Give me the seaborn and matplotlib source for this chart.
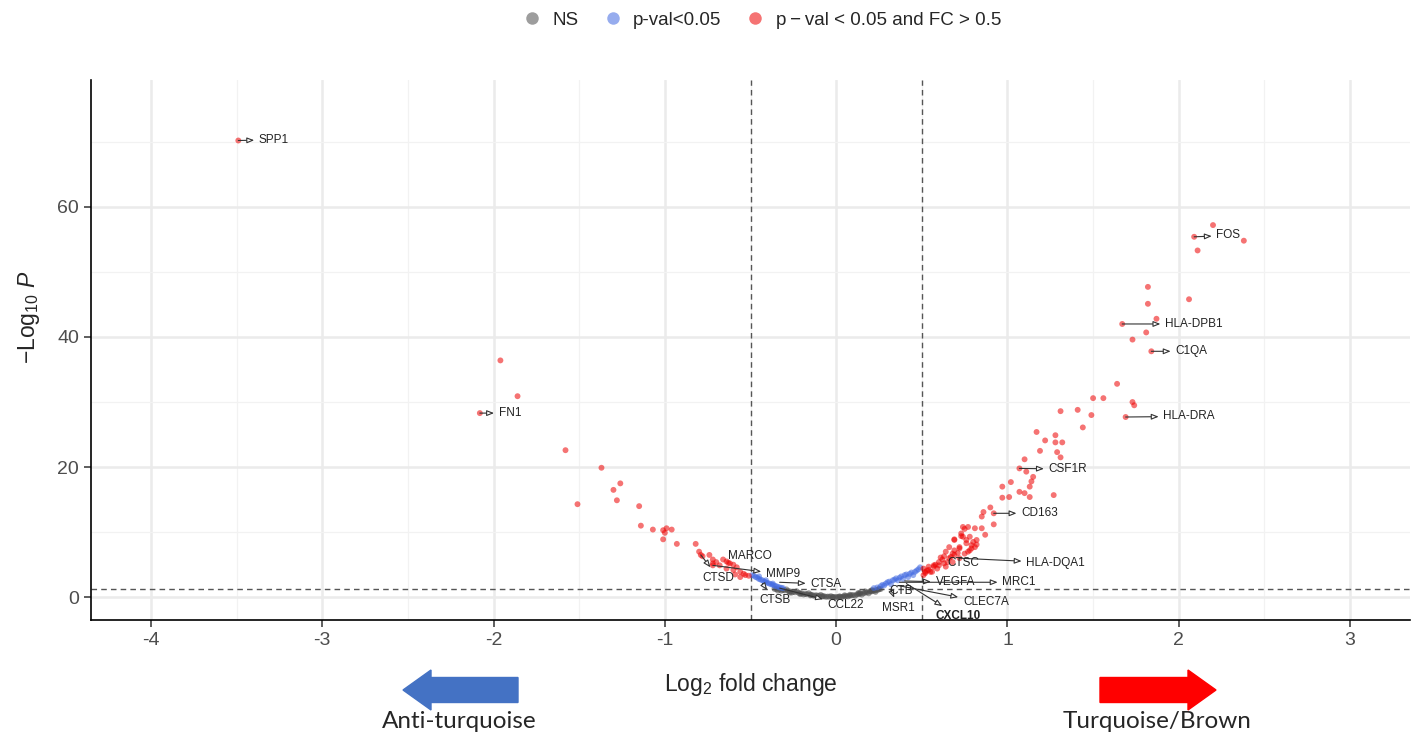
import numpy as np
import pandas as pd
import matplotlib
matplotlib.use("Agg")
import matplotlib.pyplot as plt
from matplotlib.lines import Line2D
from matplotlib.patches import FancyArrow
import seaborn as sns

# ---------------- data ----------------
red_x = [2.20, 2.09, 2.38, 2.11, 1.82, 2.06, 1.82, 1.87, 1.67, 1.81, 1.73, 1.84,
         1.64, 1.50, 1.56, 1.73, 1.74, 1.31, 1.41, 1.49, 1.69, 1.44,
         1.17, 1.28, 1.22, 1.28, 1.32, 1.29, 1.19, 1.31, 1.10, 1.11, 1.07, 1.15,
         1.14, 1.02, 1.13, 0.97, 1.07, 1.10, 1.13, 0.97, 1.01, 1.27,
         0.90, 0.86, 0.92, 0.85, 0.92, 0.77, 0.75, 0.81, 0.85,
         0.73, 0.69, 0.78, 0.82, 0.76, 0.82, 0.66, 0.72, 0.79, 0.64, 0.68, 0.77, 0.63,
         0.72, 0.60, 0.57, 0.54, 0.51, 0.59, 0.55, 0.52,
         0.73, 0.74, 0.80, 0.81, 0.78, 0.75, 0.69, 0.66, 0.63, 0.60, 0.57, 0.54, 0.52,
         0.51, 0.56, 0.64, 0.68, 0.65, 0.69, 0.72, 0.87, 0.74, 0.69, 0.76, 0.79,
         0.53, 0.58, 0.62, 0.67, 0.71, 0.61,
         -3.49, -2.08, -1.96, -1.86, -1.58, -1.37, -1.51, -1.26, -1.30, -1.28, -1.15,
         -1.14, -1.07, -0.99, -0.96, -1.00, -1.01, -1.01, -0.93, -0.82, -0.80, -0.74,
         -0.78, -0.72, -0.66, -0.64, -0.63, -0.60, -0.68, -0.72, -0.64, -0.60, -0.56,
         -0.59, -0.56, -0.53, -0.79, -0.72, -0.62, -0.70, -0.58, -0.54, -0.51]
red_y = [57.2, 55.4, 54.8, 53.3, 47.7, 45.8, 45.1, 42.8, 42.0, 40.7, 39.6, 37.8,
         32.8, 30.6, 30.6, 30.0, 29.5, 28.6, 28.8, 28.0, 27.7, 26.1,
         25.4, 24.9, 24.1, 23.8, 23.8, 22.3, 22.5, 21.5, 21.2, 19.3, 19.8, 18.5,
         17.8, 17.7, 17.0, 17.0, 16.2, 16.0, 15.4, 15.3, 15.4, 15.7,
         13.8, 13.1, 12.9, 12.4, 11.2, 10.8, 10.5, 10.6, 10.6,
         9.4, 8.9, 9.3, 8.8, 8.3, 8.1, 7.7, 7.5, 7.5, 7.0, 6.7, 7.0, 6.3,
         6.0, 5.4, 4.9, 4.7, 4.4, 4.4, 3.9, 3.7,
         9.8, 9.3, 8.5, 7.7, 7.2, 6.7, 6.5, 6.0, 5.2, 4.9, 4.7, 4.2, 3.9,
         3.4, 3.9, 4.7, 5.4, 5.4, 7.2, 7.7, 9.6, 10.8, 8.8, 8.8, 8.0,
         4.1, 5.0, 5.8, 6.2, 6.8, 6.1,
         70.2, 28.3, 36.4, 30.9, 22.6, 19.9, 14.3, 17.5, 16.5, 14.9, 14.0,
         11.0, 10.4, 10.6, 10.4, 9.9, 10.3, 8.9, 8.2, 8.2, 7.0, 6.5,
         6.3, 5.8, 5.8, 5.5, 5.3, 5.0, 4.9, 5.2, 4.4, 4.2, 3.9,
         3.5, 3.1, 3.4, 6.5, 4.9, 5.2, 5.4, 4.6, 3.6, 3.3]

blue_x = [-0.49, -0.48, -0.47, -0.46, -0.45, -0.44, -0.43, -0.42, -0.41, -0.40,
          -0.39, -0.38, -0.37, -0.36, -0.35, -0.34, -0.33, -0.32, -0.31, -0.45, -0.41, -0.37,
          0.22, 0.24, 0.26, 0.27, 0.29, 0.30, 0.31, 0.33, 0.34, 0.35, 0.37, 0.38,
          0.40, 0.41, 0.43, 0.44, 0.46, 0.47, 0.48, 0.49, 0.36, 0.32, 0.42, 0.45, 0.39, 0.28]
blue_y = [3.4, 3.3, 3.1, 3.0, 2.8, 2.7, 2.6, 2.4, 2.3, 2.2,
          2.1, 2.0, 1.9, 1.8, 1.7, 1.6, 1.5, 1.45, 1.4, 3.2, 2.6, 2.1,
          1.4, 1.5, 1.7, 1.9, 2.1, 2.3, 2.4, 2.6, 2.7, 2.9, 3.0, 3.2,
          3.4, 3.5, 3.6, 3.8, 3.9, 4.1, 4.3, 4.6, 2.6, 2.0, 3.1, 3.4, 2.8, 1.8]

gray_x = [-0.36, -0.35, -0.33, -0.31, -0.30, -0.28, -0.27, -0.25, -0.24, -0.22, -0.21,
          -0.20, -0.18, -0.17, -0.15, -0.14, -0.12, -0.11, -0.10, -0.08, -0.07, -0.05,
          -0.04, -0.02, -0.01, 0.00, 0.01, 0.02, 0.04, 0.05, 0.06, 0.08, 0.09, 0.10,
          0.12, 0.13, 0.14, 0.16, 0.17, 0.18, 0.20, 0.21, 0.22, 0.23, 0.24, 0.25, 0.26,
          -0.32, -0.26, -0.19, -0.13, -0.06, 0.03, 0.07, 0.11, 0.15, 0.19, 0.23,
          -0.29, -0.23, -0.16, -0.09, -0.03, 0.05, 0.13, 0.17, 0.21,
          -0.34, -0.27, -0.21, -0.15, -0.08, -0.02, 0.02, 0.08, 0.14, 0.20, 0.25]
gray_y = [1.28, 1.25, 1.18, 1.10, 1.05, 0.95, 0.90, 0.82, 0.76, 0.68, 0.62,
          0.58, 0.50, 0.46, 0.40, 0.35, 0.30, 0.26, 0.22, 0.18, 0.15, 0.10,
          0.08, 0.05, 0.03, 0.02, 0.04, 0.06, 0.10, 0.14, 0.18, 0.25, 0.30, 0.34,
          0.42, 0.48, 0.54, 0.62, 0.70, 0.76, 0.86, 0.92, 1.00, 1.06, 1.12, 1.20, 1.26,
          1.00, 0.70, 0.42, 0.22, 0.06, 0.02, 0.12, 0.22, 0.40, 0.60, 0.82,
          1.20, 0.92, 0.62, 0.36, 0.16, 0.30, 0.66, 0.90, 1.12,
          1.00, 0.72, 0.48, 0.28, 0.10, 0.00, 0.14, 0.38, 0.66, 0.96, 1.32]

genes = ["SPP1", "FN1", "FOS", "HLA-DPB1", "C1QA", "HLA-DRA", "CSF1R", "CD163",
         "HLA-DQA1", "CTSC", "VEGFA", "MRC1", "CLEC7A", "CXCL10", "MSR1", "CTB",
         "MARCO", "CTSD", "MMP9", "CTSA", "CTSB", "CCL22"]
gene_x = [-3.49, -2.08, 2.09, 1.67, 1.84, 1.69, 1.07, 0.92,
          0.72, 0.60, 0.40, 0.37, 0.36, 0.41, 0.32, 0.30,
          -0.62, -0.79, -0.72, -0.33, -0.43, -0.33]
gene_y = [70.2, 28.3, 55.4, 42.0, 37.8, 27.7, 19.8, 12.9,
          6.0, 5.4, 2.5, 2.3, 1.8, 2.1, 1.1, 1.3,
          5.2, 6.5, 4.9, 2.3, 2.1, 1.4]

# label placement (layout only)
label_pos = {
    "SPP1": (-3.37, 70.3), "FN1": (-1.97, 28.3), "FOS": (2.22, 55.6),
    "HLA-DPB1": (1.92, 42.0), "C1QA": (1.98, 37.8), "HLA-DRA": (1.91, 27.8),
    "CSF1R": (1.24, 19.7), "CD163": (1.08, 12.9), "HLA-DQA1": (1.11, 5.3),
    "CTSC": (0.65, 5.3), "VEGFA": (0.58, 2.3), "MRC1": (0.97, 2.3),
    "CLEC7A": (0.74, -0.8), "CXCL10": (0.58, -2.9), "MSR1": (0.27, -1.7),
    "CTB": (0.31, 0.9), "MARCO": (-0.63, 6.4), "CTSD": (-0.78, 3.0),
    "MMP9": (-0.41, 3.5), "CTSA": (-0.15, 2.0), "CTSB": (-0.45, -0.5),
    "CCL22": (-0.05, -1.2),
}
no_arrow = {"CTSC", "MARCO", "CTB"}

groups = ["NS", "p-val<0.05", "p\u2009\u2212\u2009val < 0.05 and FC > 0.5"]
df = pd.DataFrame({
    "log2fc": gray_x + blue_x + red_x,
    "nlog10p": gray_y + blue_y + red_y,
    "group": [groups[0]] * len(gray_x) + [groups[1]] * len(blue_x) + [groups[2]] * len(red_x),
})

colors = {groups[0]: "#4d4d4d", groups[1]: "#4169e1", groups[2]: "#ee0000"}

# ---------------- style ----------------
sns.set_theme(style="white")
plt.rcParams["font.family"] = ["Liberation Sans", "DejaVu Sans"]
plt.rcParams["mathtext.fontset"] = "custom"
plt.rcParams["mathtext.rm"] = "Liberation Sans"
plt.rcParams["mathtext.it"] = "Liberation Sans:italic"
plt.rcParams["axes.unicode_minus"] = False

fig = plt.figure(figsize=(14.16, 7.36), dpi=100)
ax = fig.add_axes([91 / 1416, 1 - 620 / 736, (1410 - 91) / 1416, (620 - 80) / 736])

sns.scatterplot(data=df, x="log2fc", y="nlog10p", hue="group", palette=colors,
                s=18, alpha=0.55, edgecolor="none", linewidth=0, legend=False, ax=ax, zorder=3)

ax.set_xticks(range(-4, 4))
ax.set_yticks([0, 20, 40, 60])
ax.set_xticks(np.arange(-3.5, 3.0, 1.0), minor=True)
ax.set_yticks([10, 30, 50, 70], minor=True)
ax.set_xlim(-4.35, 3.35)
ax.set_ylim(-3.5, 79.5)
ax.grid(which="major", color="#ebebeb", lw=1.8, zorder=0)
ax.grid(which="minor", color="#f2f2f2", lw=0.9, zorder=0)
ax.set_axisbelow(True)
for s in ["top", "right"]:
    ax.spines[s].set_visible(False)
for s in ["left", "bottom"]:
    ax.spines[s].set_color("black")
    ax.spines[s].set_linewidth(1.2)
ax.tick_params(which="major", axis="both", length=5, width=1.1, color="#333333",
               labelsize=14, labelcolor="#4d4d4d", direction="out", left=True, bottom=True)
ax.tick_params(which="minor", length=0)

ax.axvline(-0.5, color="#555555", lw=1.0, ls=(0, (4, 3)), zorder=2)
ax.axvline(0.5, color="#555555", lw=1.0, ls=(0, (4, 3)), zorder=2)
ax.axhline(1.3, color="#555555", lw=1.0, ls=(0, (4, 3)), zorder=2)

ax.set_xlabel(r"Log$_2$ fold change", fontsize=16.5)
ax.set_ylabel(r"$-$Log$_{10}$ $\mathit{P}$", fontsize=16.5)
ax.xaxis.set_label_coords(0.5, -0.095)
ax.yaxis.set_label_coords(-0.037, 0.56)

for g, gx, gy in zip(genes, gene_x, gene_y):
    tx, ty = label_pos[g]
    weight = "bold" if g == "CXCL10" else "normal"
    if g in no_arrow:
        ax.text(tx, ty, g, fontsize=8.5, color="#222222", ha="left", va="center",
                zorder=5, fontweight=weight)
    else:
        ax.annotate(g, xy=(gx, gy), xytext=(tx, ty), fontsize=8.5, color="#222222",
                    ha="left", va="center", zorder=5, fontweight=weight,
                    arrowprops=dict(arrowstyle="<|-,head_length=0.5,head_width=0.2",
                                    fc="white", ec="#333333", lw=0.8,
                                    shrinkA=1, shrinkB=0))

# legend
handles = [Line2D([0], [0], marker="o", ls="none", markersize=9, markeredgewidth=0,
                  markerfacecolor=colors[g], alpha=0.55) for g in groups]
fig.legend(handles, groups, loc="center", bbox_to_anchor=(761 / 1416, 1 - 20 / 736),
           ncol=3, frameon=False, fontsize=13.5, handletextpad=0.5, columnspacing=1.2,
           handlelength=1.2)

# direction arrows below the plot
inch = fig.dpi_scale_trans
fig.patches.append(FancyArrow(5.18, 7.36 - 6.90, -1.15, 0, width=0.25, head_width=0.40,
                              head_length=0.28, length_includes_head=True,
                              color="#4472C4", transform=inch, figure=fig))
fig.patches.append(FancyArrow(11.00, 7.36 - 6.90, 1.16, 0, width=0.25, head_width=0.40,
                              head_length=0.28, length_includes_head=True,
                              color="#FF0000", transform=inch, figure=fig))
fig.text(459 / 1416, 1 - 722 / 736, "Anti-turquoise", ha="center", va="center",
         fontsize=17.5, family=["Lato", "DejaVu Sans"])
fig.text(1157 / 1416, 1 - 722 / 736, "Turquoise/Brown", ha="center", va="center",
         fontsize=17.5, family=["Lato", "DejaVu Sans"])

fig.savefig("out.png", dpi=100)
